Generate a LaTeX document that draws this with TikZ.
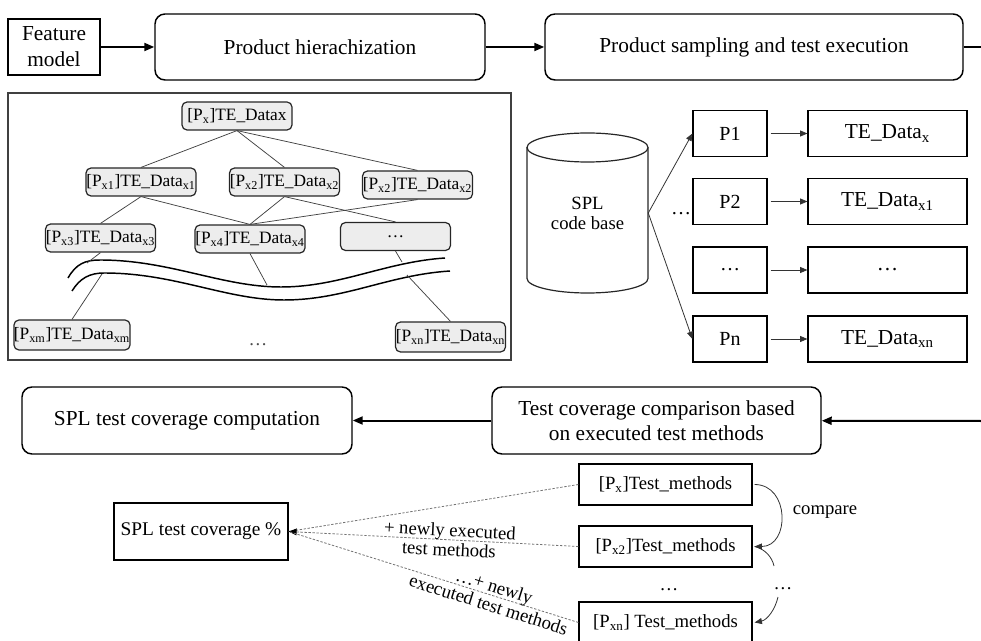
\documentclass[tikz,border=0pt]{standalone}
\usepackage{fontspec}
\setmainfont{Liberation Serif}
\usetikzlibrary{arrows.meta}

\begin{document}
\begin{tikzpicture}[x=0.75pt,y=-0.75pt,
  bigbox/.style={draw, line width=1.1pt, rounded corners=7.5pt, minimum width=247.5pt,
    minimum height=49.5pt, inner sep=0pt, align=center, font=\fontsize{16}{19}\selectfont},
  flow/.style={line width=1.5pt, -{Triangle[length=7.5pt,width=6pt]}},
  tnode/.style={draw=black!85, fill=black!7, line width=0.9pt, rounded corners=3.75pt,
    minimum width=82.5pt, minimum height=21pt, inner sep=0pt, font=\fontsize{13}{15}\selectfont},
  tedge/.style={draw=black!75, line width=0.55pt},
  wave/.style={line width=1.1pt},
  pbox/.style={draw, line width=0.9pt, minimum width=55.5pt, minimum height=34.5pt,
    inner sep=0pt, font=\fontsize{15}{18}\selectfont},
  tebox/.style={pbox, minimum width=119.25pt, font=\fontsize{16}{19}\selectfont},
  thinarrow/.style={line width=0.6pt, draw=black!80, -{Triangle[length=5.5pt,width=4.5pt]}},
  mbox/.style={draw, line width=0.9pt, minimum width=129.75pt, minimum height=30.75pt,
    inner sep=0pt, font=\fontsize{14}{17}\selectfont},
  dotline/.style={draw=black!55, line width=0.6pt, dash pattern=on 1.8pt off 1.2pt},
  lbl/.style={font=\fontsize{14}{14.5}\selectfont, align=center, inner sep=0.5pt},
  dots/.style={anchor=base, inner sep=0pt, font=\fontsize{14}{16}\selectfont},
]
\useasboundingbox (0,0) rectangle (981,641);

% ---------- top flow ----------
\node[draw, line width=0.9pt, minimum width=69pt, minimum height=42pt, inner sep=0pt,
  align=center, font=\fontsize{16}{19.5}\selectfont] (fm) at (54,47) {Feature\\model};
\node[bigbox] (ph) at (320,47) {Product hierachization};
\node[bigbox, minimum width=313.5pt] (ps) at (754,47) {Product sampling and test execution};
\coordinate (rout) at (981,47);
\draw[flow] (fm) -- (ph);
\draw[flow] (ph) -- (ps);
\draw[line width=1.5pt] (ps) -- (rout);

% ---------- product hierarchy panel ----------
\draw[draw=black!75, line width=1.1pt] (8,93) rectangle (511,360);

\node[tnode] (nx)  at (237,116)   {[P\textsubscript{x}]TE\_Datax};
\node[tnode] (nx1) at (141,182)   {[P\textsubscript{x1}]TE\_Data\textsubscript{x1}};
\node[tnode] (nx2a) at (284.5,182) {[P\textsubscript{x2}]TE\_Data\textsubscript{x2}};
\node[tnode] (nx2b) at (417.5,185) {[P\textsubscript{x2}]TE\_Data\textsubscript{x2}};
\node[tnode] (nx3) at (100.5,238) {[P\textsubscript{x3}]TE\_Data\textsubscript{x3}};
\node[tnode] (nx4) at (250,239)   {[P\textsubscript{x4}]TE\_Data\textsubscript{x4}};
\node[tnode] (ndots) at (395.5,236.5) {\dots};
\node[tnode, minimum height=22.5pt] (nxm) at (72,335)  {[P\textsubscript{xm}]TE\_Data\textsubscript{xm}};
\node[tnode, minimum height=22.5pt] (nxn) at (450.5,337) {[P\textsubscript{xn}]TE\_Data\textsubscript{xn}};
\node[dots, text=black!70] (pdots) at (258,346) {\dots};

\draw[tedge] (nx.south) -- (nx1.north);
\draw[tedge] (nx.south) -- (nx2a.north);
\draw[tedge] (nx.south) -- (nx2b.north);
\draw[tedge] (nx1.south) -- (nx3.north);
\draw[tedge] (nx1.south) -- (nx4.north);
\draw[tedge] (nx2a.south) -- (nx4.north);
\draw[tedge] (nx2a.south) -- (ndots.north);
\draw[tedge] (nx2b.south) -- (nx4.north);

% break marks across the hierarchy
\draw[wave] (68,278) .. controls (76,264) and (85,260) .. (100,260)
  .. controls (170,260) and (222,287) .. (281,287)
  .. controls (340,287) and (385,262) .. (445,258);
\draw[wave] (72,291) .. controls (80,278) and (90,273) .. (104,273)
  .. controls (175,273) and (226,300) .. (284,300)
  .. controls (345,300) and (388,275) .. (450,271);

\coordinate (w1) at (87,263);
\coordinate (w2) at (102,274);
\coordinate (w3) at (267,285);
\coordinate (w4) at (402,262);
\coordinate (w5) at (407,275);
\draw[tedge] (nx3.south) -- (w1);
\draw[tedge] (w2) -- (nxm.north);
\draw[tedge] (nx4.south) -- (w3);
\draw[tedge] (ndots.south) -- (w4);
\draw[tedge] (w5) -- (nxn.north);

% ---------- sampling and test execution ----------
\draw[line width=0.9pt, draw=black!85] (527,147.5) -- (527,278.5)
  .. controls (527,286.5) and (554.1,293) .. (587.5,293)
  .. controls (620.9,293) and (648,286.5) .. (648,278.5) -- (648,147.5);
\draw[line width=0.9pt, draw=black!85] (587.5,147.5) ellipse [x radius=60.5, y radius=14.5];
\node[minimum width=90.75pt, minimum height=100pt, inner sep=0pt, align=center,
  font=\fontsize{14}{15}\selectfont] (cyl) at (587.5,213) {SPL\\code base};

\node[pbox] (p1) at (730,133.5) {P1};
\node[pbox] (p2) at (730,201.5) {P2};
\node[pbox] (p3) at (730,270)   {\dots};
\node[pbox] (pn) at (730,339)   {Pn};
\node[tebox] (t1) at (887.5,133.5) {TE\_Data\textsubscript{x}};
\node[tebox] (t2) at (887.5,201.5) {TE\_Data\textsubscript{x1}};
\node[tebox] (t3) at (887.5,270)   {\dots};
\node[tebox] (tn) at (887.5,339)   {TE\_Data\textsubscript{xn}};
\node[dots, font=\fontsize{15}{18}\selectfont] (pd) at (681,215) {\dots};

\draw[thinarrow, shorten <=2.25pt] (p1) -- (t1);
\draw[thinarrow, shorten <=2.25pt] (p2) -- (t2);
\draw[thinarrow, shorten <=2.25pt] (p3) -- (t3);
\draw[thinarrow, shorten <=2.25pt] (pn) -- (tn);
\draw[thinarrow] (cyl.east) -- (p1.west);
\draw[thinarrow] (cyl.east) -- (pn.west);

% ---------- coverage flow ----------
\node[bigbox, minimum height=50.25pt] (sc) at (187,420.5) {SPL test coverage computation};
\node[bigbox, minimum width=246.75pt, minimum height=50.25pt] (tc) at (656.5,420.5)
  {Test coverage comparison based\\on executed test methods};
\coordinate (rin) at (981,421);
\draw[flow] (rin) -- (tc);
\draw[flow] (tc) -- (sc);

% ---------- coverage computation detail ----------
\node[mbox] (m1) at (665.5,484.5) {[P\textsubscript{x}]Test\_methods};
\node[mbox] (m2) at (665.5,546.5) {[P\textsubscript{x2}]Test\_methods};
\node[mbox] (mn) at (665.5,622.5) {[P\textsubscript{xn}] Test\_methods};
\node[dots] (md) at (669,590) {\dots};
\node[draw, line width=0.9pt, minimum width=130.5pt, minimum height=42.75pt, inner sep=0pt,
  font=\fontsize{14.5}{17}\selectfont] (cov) at (201,531.5) {SPL test coverage \%};

\draw[thinarrow] ([xshift=1.5pt]m1.east) .. controls (790,484.5) and (790,546.5) .. ([xshift=1.5pt]m2.east);
\coordinate (k1) at (774,566);
\coordinate (k2) at (778,597);
\draw[line width=0.6pt, draw=black!80] ([xshift=1.5pt]m2.east) .. controls (765,549) and (772,557) .. (k1);
\node[dots] (kd) at (783,589) {\dots};
\draw[thinarrow] (k2) .. controls (775,610) and (767,620) .. ([xshift=1.5pt]mn.east);
\node[font=\fontsize{14}{17}\selectfont] (cmp) at (825,512) {compare};

\draw[dotline] (m1.west) -- (cov.east);
\draw[dotline, -{Triangle[length=6pt,width=5pt,color=black]}] (m2.west)
  -- node[lbl, sloped, pos=0.445] {+ newly executed\\test methods} (cov.east);
\draw[dotline] (mn.west)
  -- node[lbl, sloped, pos=0.3] {\dots+ newly\\executed test methods} (cov.east);
\end{tikzpicture}
\end{document}
